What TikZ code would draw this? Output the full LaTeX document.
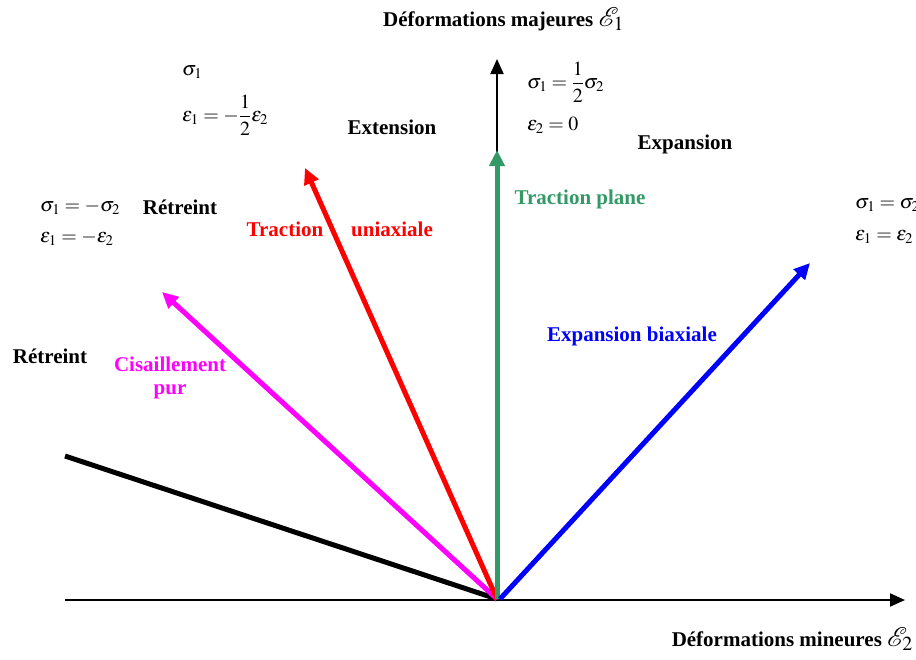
\documentclass[tikz,border=0pt]{standalone}
\usepackage{mathptmx}
\usepackage{fontspec}
\setmainfont{Liberation Serif}
\usetikzlibrary{arrows.meta}
\definecolor{tgreen}{RGB}{51,153,102}
\definecolor{tmag}{RGB}{255,0,255}
\definecolor{tred}{RGB}{255,0,0}
\definecolor{tblue}{RGB}{0,0,255}
\newcommand{\bigE}[1]{{\fontsize{27}{28}\selectfont$\mathcal{E}_{#1}$}}
\begin{document}
\begin{tikzpicture}[x=1pt,y=-1pt,
  lbl/.style={font=\fontsize{21}{24}\selectfont\bfseries,inner sep=0pt},
  eq/.style={font=\fontsize{20}{23}\selectfont,inner sep=0pt,anchor=west},
  axis/.style={line width=2pt,-{Triangle[length=15pt,width=13pt]}},
  vec/.style={line width=5pt,-{Triangle[length=16pt,width=15pt]}}]
\useasboundingbox (0,0) rectangle (916,659);
\coordinate (O) at (497,599);
\coordinate (xl) at (65,600);
\coordinate (xr) at (905,600);
\coordinate (yt) at (497,59);
\coordinate (bk) at (65,456);
\coordinate (mg) at (162,292);
\coordinate (rd) at (305,168);
\coordinate (gr) at (497,150);
\coordinate (b0) at (500,599);
\coordinate (bl) at (810,263);
% axes
\draw[axis] (xl) -- (xr);
\draw[axis] (O) -- (yt);
% lines
\draw[line width=5pt] (O) -- (bk);
\draw[vec,tmag] (O) -- (mg);
\draw[vec,tred] (O) -- (rd);
\draw[vec,tgreen] (O) -- (gr);
\draw[vec,tblue] (b0) -- (bl);
% labels
\node[lbl,anchor=base west] (ymaj) at (383,26) {Déformations majeures \bigE{1}};
\node[lbl,anchor=base east] (xmin) at (913,646) {Déformations mineures \bigE{2}};
\node[eq] (e1) at (182,72) {$\sigma_1$};
\node[eq] (e2) at (182,115) {$\varepsilon_1=-\displaystyle\frac{1}{2}\varepsilon_2$};
\node[lbl] (ext) at (392,127) {Extension};
\node[eq] (e3) at (527,82) {$\sigma_1=\displaystyle\frac{1}{2}\sigma_2$};
\node[eq] (e4) at (527,125) {$\varepsilon_2=0$};
\node[lbl] (exp) at (685,144) {Expansion};
\node[eq] (e5) at (40,207) {$\sigma_1=-\sigma_2$};
\node[eq] (e6) at (40,238) {$\varepsilon_1=-\varepsilon_2$};
\node[lbl] (ret1) at (180,207) {Rétreint};
\node[lbl,tred] (tr1) at (285,229) {Traction};
\node[lbl,tred] (tr2) at (392,229) {uniaxiale};
\node[lbl,tgreen] (trp) at (580,199) {Traction plane};
\node[eq] (e7) at (855,205) {$\sigma_1=\sigma_2$};
\node[eq] (e8) at (855,237) {$\varepsilon_1=\varepsilon_2$};
\node[lbl,tblue] (expb) at (632,336) {Expansion biaxiale};
\node[lbl] (ret2) at (50,356) {Rétreint};
\node[lbl,tmag] (cis) at (170,364) {Cisaillement};
\node[lbl,tmag] (pur) at (170,392) {pur};
\end{tikzpicture}
\end{document}
